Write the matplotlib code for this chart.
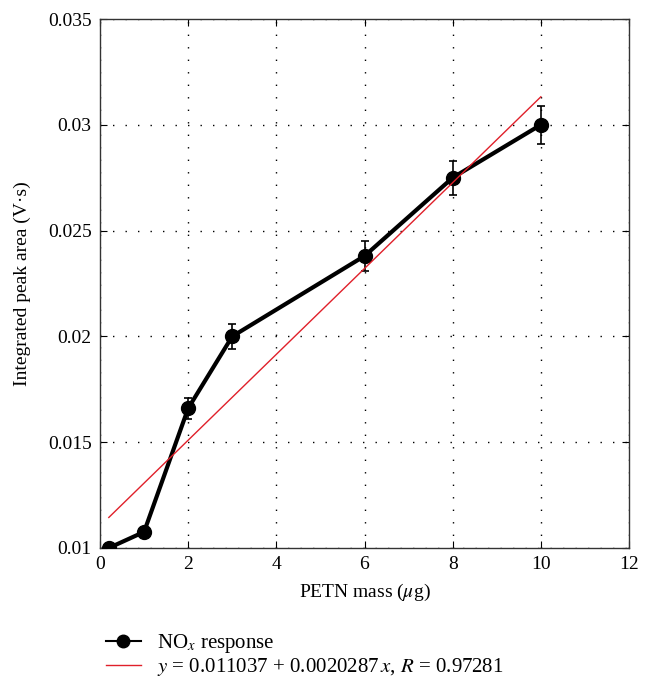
import matplotlib
matplotlib.use("Agg")
import matplotlib.pyplot as plt
from matplotlib.lines import Line2D
from matplotlib.ticker import FuncFormatter

# data
mass = [0.2, 1, 2, 3, 6, 8, 10]
area = [0.0100, 0.01076, 0.0166, 0.0200, 0.0238, 0.0275, 0.0300]
area_err = [0.0001, 0.0002, 0.0005, 0.0006, 0.0007, 0.0008, 0.0009]

# linear fit line endpoints
fit_x = [0.2, 10]
fit_y = [0.011443, 0.031324]

fit_label = r"$y$ = 0.011037 + 0.0020287$\,x$, $R$ = 0.97281"
data_label = r"NO$_x$ response"

plt.rcParams["font.family"] = ["Liberation Serif", "DejaVu Serif"]
plt.rcParams["mathtext.fontset"] = "stix"

fig = plt.figure(figsize=(6.48, 6.82), dpi=100)
ax = fig.add_axes([0.1543, 0.1965, 0.8164, 0.7756])

ax.errorbar(mass, area, yerr=area_err, color="black", linewidth=3,
            marker="o", markersize=10, ecolor="black", elinewidth=1.2,
            capsize=3, capthick=1.2, zorder=3)
ax.plot(fit_x, fit_y, color="#e0202a", linewidth=1, zorder=4)

ax.set_xlim(0, 12)
ax.set_ylim(0.01, 0.035)
ax.set_xticks(range(0, 13, 2))
ax.set_yticks([0.01, 0.015, 0.02, 0.025, 0.03, 0.035])
ax.yaxis.set_major_formatter(FuncFormatter(lambda v, p: f"{v:g}"))
ax.tick_params(direction="in", top=True, right=True, labelsize=14, length=5, pad=6)
ax.grid(True, linestyle=(0, (1, 8)), color="black", linewidth=1, zorder=0)
ax.set_axisbelow(True)

for s in ax.spines.values():
    s.set_linewidth(1)
    s.set_color("#333333")

ax.set_xlabel(r"PETN mass ($\mu$g)", fontsize=14, labelpad=6)
ax.set_ylabel("Integrated peak area (V·s)", fontsize=14, labelpad=12)

handles = [
    Line2D([], [], color="black", linewidth=1.5, marker="o", markersize=9),
    Line2D([], [], color="#e0202a", linewidth=1),
]
fig.legend(handles, [data_label, fit_label], loc="upper left",
           bbox_to_anchor=(0.15, 0.085), frameon=False,
           fontsize=15, handlelength=1.7, handletextpad=0.75,
           labelspacing=0.05, borderaxespad=0)

fig.savefig("out.png", dpi=100)
